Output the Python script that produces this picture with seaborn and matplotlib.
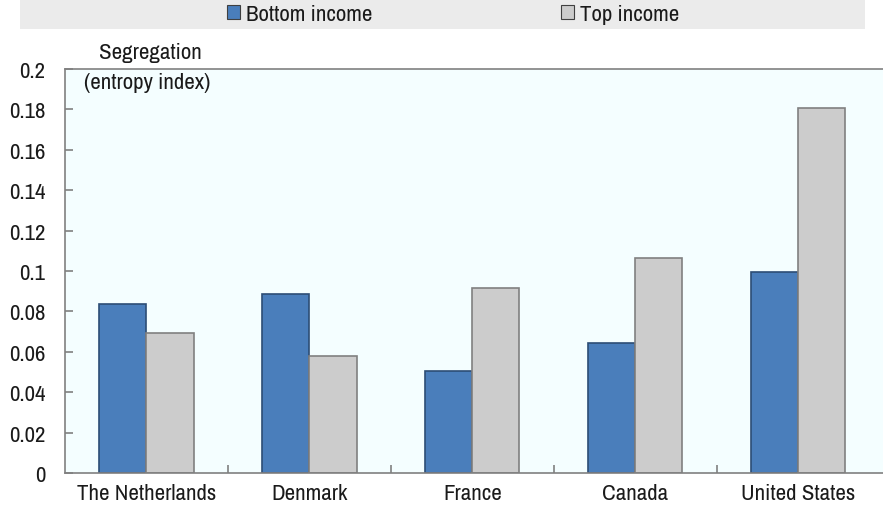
import matplotlib
matplotlib.use("Agg")
import matplotlib.pyplot as plt
import matplotlib.ticker as mticker
from matplotlib import font_manager
from matplotlib.patches import Rectangle
import seaborn as sns
import pandas as pd
import numpy as np

countries = ["The Netherlands", "Denmark", "France", "Canada", "United States"]
bottom_income = [0.0837, 0.0886, 0.0506, 0.0645, 0.0997]
top_income = [0.0693, 0.0580, 0.0914, 0.1066, 0.1805]
series_names = ["Bottom income", "Top income"]
y_ticks = [0, 0.02, 0.04, 0.06, 0.08, 0.1, 0.12, 0.14, 0.16, 0.18, 0.2]

df = pd.DataFrame({
    "country": countries * 2,
    "value": bottom_income + top_income,
    "series": [series_names[0]] * len(countries) + [series_names[1]] * len(countries),
})

sns.set_theme(style="white")

narrow = None
for f in font_manager.fontManager.ttflist:
    if "Liberation Sans Narrow" in f.name:
        narrow = f.name
        break
if narrow is None:
    for f in font_manager.fontManager.ttflist:
        if ("Condensed" in f.name or "Narrow" in f.name) and "Mono" not in f.name and "Serif" not in f.name:
            narrow = f.name
            break
if narrow:
    plt.rcParams["font.family"] = [narrow, "Liberation Sans", "DejaVu Sans"]
    FS = 16.5
else:
    plt.rcParams["font.family"] = ["Liberation Sans", "DejaVu Sans"]
    FS = 13

fig = plt.figure(figsize=(8.83, 5.10), dpi=100)
ax = fig.add_axes([65 / 883, 1 - 474 / 510, 818 / 883, 404 / 510])
ax.set_facecolor("#F4FEFF")

palette = {"Bottom income": "#4A7EBB", "Top income": "#CCCCCC"}
sns.barplot(data=df, x="country", y="value", hue="series", order=countries,
            hue_order=series_names, palette=palette, width=0.578, gap=0,
            saturation=1, ax=ax, legend=True)

for bar in ax.patches:
    fc = bar.get_facecolor()
    if abs(fc[2] - fc[0]) > 0.1:
        bar.set_edgecolor("#2C4D75")
    else:
        bar.set_edgecolor("#808080")
    bar.set_linewidth(1.2)

handles, labels = ax.get_legend_handles_labels()
ax.get_legend().remove()

ax.set_ylim(0, 0.2)
ax.set_xlim(-0.5, 4.5 + 0.02)
ax.set_yticks(y_ticks)
ax.yaxis.set_major_formatter(mticker.FuncFormatter(lambda v, p: f"{v:g}"))
ax.set_xlabel("")
ax.set_ylabel("")

ax.tick_params(axis="x", which="major", length=0, labelsize=FS, labelcolor="#1a1a1a", pad=7)
ax.set_xticks(np.arange(0.5, 4.5, 1.0), minor=True)
ax.tick_params(axis="x", which="minor", direction="in", length=6, width=1.2, color="#808080", bottom=True)
ax.tick_params(axis="y", which="major", direction="in", length=6, width=1.2, color="#808080",
               labelsize=FS, labelcolor="#1a1a1a", pad=14, left=True)

for side in ["left", "top", "bottom"]:
    ax.spines[side].set_visible(True)
    ax.spines[side].set_color("#808080")
    ax.spines[side].set_linewidth(1.2)
ax.spines["right"].set_visible(False)

fig.add_artist(Rectangle((20 / 883, 1 - 30 / 510), 845 / 883, 30 / 510,
                         transform=fig.transFigure, facecolor="#EBEBEB", edgecolor="none", zorder=0))
for h in handles:
    h.set_edgecolor("#404040")
    h.set_linewidth(0.8)
fig.legend(handles, labels, loc="center", bbox_to_anchor=(453 / 883, 1 - 15 / 510),
           ncol=2, frameon=False, fontsize=FS, handlelength=0.6, handleheight=0.6,
           handletextpad=0.25, columnspacing=8.2, labelcolor="#1a1a1a")

fig.text(150 / 883, 1 - 53 / 510, "Segregation", ha="center", va="center", fontsize=FS, color="#1a1a1a")
fig.text(147 / 883, 1 - 83 / 510, "(entropy index)", ha="center", va="center", fontsize=FS, color="#1a1a1a")

fig.savefig("out.png", dpi=100, facecolor="white")
